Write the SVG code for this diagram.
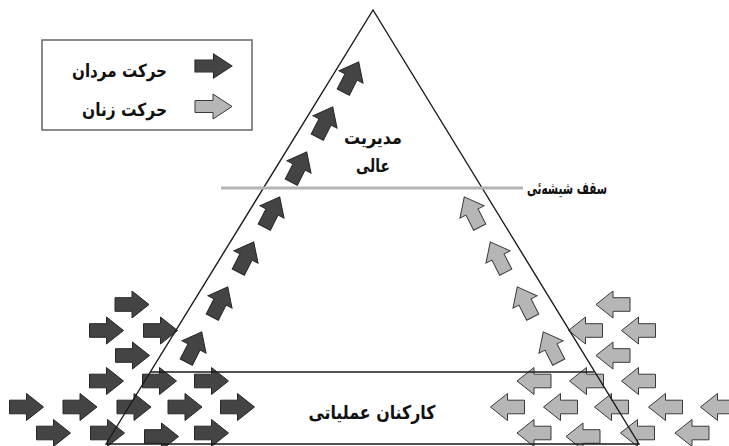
<svg xmlns="http://www.w3.org/2000/svg" xmlns:xlink="http://www.w3.org/1999/xlink" width="729" height="446" viewBox="0 0 729 446">
<style>
.t{font-family:"DejaVu Sans","Noto Sans",sans-serif;font-weight:bold;fill:#111}
.dk{fill:#444;stroke:#262626;stroke-width:1}
.lt{fill:#b6b6b6;stroke:#3a3a3a;stroke-width:1}
.ln{fill:none;stroke:#1a1a1a;stroke-width:1.4}
</style>
<defs>
<path id="ad" class="dk" d="M-17,-6.8 H0 V-13.5 L17,0 L0,13.5 V6.8 H-17 Z"/>
<path id="al" class="lt" d="M17,-6.8 H0 V-13.5 L-17,0 L0,13.5 V6.8 H17 Z"/>
</defs>
<rect width="729" height="446" fill="#fff"/>

<g id="legend">
<rect x="42" y="40" width="210" height="90" fill="#fff" stroke="#666" stroke-width="1.5"/>
<use xlink:href="#ad" transform="translate(213.5,66) scale(1.09,0.9)"/>
<path class="lt" d="M195,100.5 H213 V94 L232,106.5 L213,119 V112.5 H195 Z"/>
<text class="t" x="167" y="77" font-size="18" text-anchor="end" textLength="95" lengthAdjust="spacingAndGlyphs">حرکت مردان</text>
<text class="t" x="167" y="116" font-size="18" text-anchor="end" textLength="85" lengthAdjust="spacingAndGlyphs">حرکت زنان</text>
</g>

<g id="men-arrows">
<use xlink:href="#ad" x="132" y="304.5"/>
<use xlink:href="#ad" x="106.5" y="330.5"/>
<use xlink:href="#ad" x="160.5" y="330.5"/>
<use xlink:href="#ad" x="132.5" y="355.5"/>
<use xlink:href="#ad" x="106.5" y="381"/>
<use xlink:href="#ad" x="159.5" y="381"/>
<use xlink:href="#ad" x="211.5" y="381"/>
<use xlink:href="#ad" x="26.5" y="407"/>
<use xlink:href="#ad" x="80" y="407"/>
<use xlink:href="#ad" x="134" y="407"/>
<use xlink:href="#ad" x="185" y="407"/>
<use xlink:href="#ad" x="237.5" y="407"/>
<use xlink:href="#ad" x="53.5" y="433"/>
<use xlink:href="#ad" x="107.5" y="433"/>
<use xlink:href="#ad" x="161.5" y="436.5"/>
<use xlink:href="#ad" x="211.5" y="433"/>
<use xlink:href="#ad" transform="translate(351,77) rotate(-63)"/>
<use xlink:href="#ad" transform="translate(325,122) rotate(-63)"/>
<use xlink:href="#ad" transform="translate(299,167) rotate(-63)"/>
<use xlink:href="#ad" transform="translate(272,212) rotate(-63)"/>
<use xlink:href="#ad" transform="translate(246,257) rotate(-63)"/>
<use xlink:href="#ad" transform="translate(220,302) rotate(-63)"/>
<use xlink:href="#ad" transform="translate(194,347) rotate(-63)"/>
</g>

<g id="women-arrows">
<use xlink:href="#al" x="613" y="304.5"/>
<use xlink:href="#al" x="585.5" y="330.5"/>
<use xlink:href="#al" x="638.5" y="330.5"/>
<use xlink:href="#al" x="613" y="355.5"/>
<use xlink:href="#al" x="534" y="381"/>
<use xlink:href="#al" x="586.5" y="381"/>
<use xlink:href="#al" x="638.5" y="381"/>
<use xlink:href="#al" x="507.5" y="407"/>
<use xlink:href="#al" x="560.5" y="407"/>
<use xlink:href="#al" x="611.5" y="407"/>
<use xlink:href="#al" x="665.5" y="407"/>
<use xlink:href="#al" x="717.5" y="407"/>
<use xlink:href="#al" x="534" y="433"/>
<use xlink:href="#al" x="583" y="436.5"/>
<use xlink:href="#al" x="637.5" y="433"/>
<use xlink:href="#al" x="692" y="433"/>
<use xlink:href="#al" transform="translate(472,212) rotate(63)"/>
<use xlink:href="#al" transform="translate(498,257) rotate(63)"/>
<use xlink:href="#al" transform="translate(525,302) rotate(63)"/>
<use xlink:href="#al" transform="translate(551,347) rotate(63)"/>
</g>

<g id="connectors">
<path id="pyramid" class="ln" d="M106,444 L373,10 L639,444 Z"/>
<line id="operational-top" class="ln" x1="150" y1="372" x2="594" y2="372"/>
<line id="glass-ceiling" x1="221" y1="188" x2="523" y2="188" stroke="#b4b4b4" stroke-width="3"/>
</g>

<g id="top-management">
<text class="t" x="373" y="144" font-size="18" text-anchor="middle" textLength="58" lengthAdjust="spacingAndGlyphs">مدیریت</text>
<text class="t" x="373" y="172" font-size="18" text-anchor="middle" textLength="34" lengthAdjust="spacingAndGlyphs">عالی</text>
</g>
<g id="glass-ceiling-label">
<text class="t" x="527" y="194" font-size="17" text-anchor="start" textLength="80" lengthAdjust="spacingAndGlyphs">سقف شیشه‌ئی</text>
</g>
<g id="operational-staff">
<text class="t" x="372" y="419" font-size="19" text-anchor="middle" textLength="127" lengthAdjust="spacingAndGlyphs">کارکنان عملیاتی</text>
</g>
</svg>
